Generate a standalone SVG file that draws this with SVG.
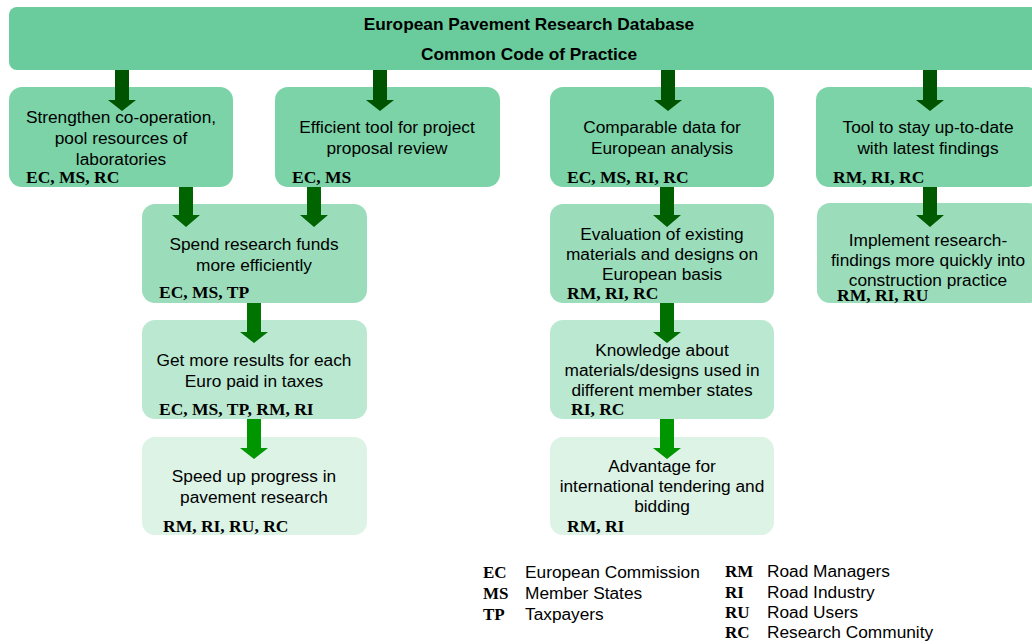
<svg xmlns="http://www.w3.org/2000/svg" width="1032" height="644" viewBox="0 0 1032 644">
<style>
.t{font-family:"Liberation Sans",Arial,sans-serif;font-size:17.3px;fill:#000;text-anchor:middle}
.h{font-family:"Liberation Sans",Arial,sans-serif;font-size:17.3px;font-weight:bold;fill:#000;text-anchor:middle}
.c{font-family:"Liberation Serif","Times New Roman",serif;font-size:17.5px;font-weight:bold;fill:#000}
.lc{font-family:"Liberation Serif","Times New Roman",serif;font-size:17px;font-weight:bold;fill:#000}
.lt{font-family:"Liberation Sans",Arial,sans-serif;font-size:17.3px;fill:#000}
.l1{fill:#7bd3a7}
.l2{fill:#9bddbb}
.l3{fill:#bbe8d0}
.l4{fill:#dcf3e6}
</style>
<rect width="1032" height="644" fill="#fff"/>
<g id="top">
<rect x="9" y="7" width="1041" height="63" rx="8" fill="#6acc9c"/>
<text class="h" x="529" y="30">European Pavement Research Database</text>
<text class="h" x="529" y="60">Common Code of Practice</text>
</g>
<g id="nodeA">
<rect class="l1" x="9" y="87" width="224" height="100" rx="13"/>
<text class="t" x="121" y="123">Strengthen co-operation,</text>
<text class="t" x="121" y="144">pool resources of</text>
<text class="t" x="121" y="165">laboratories</text>
<text class="c" x="26" y="183">EC, MS, RC</text>
</g>
<g id="nodeB">
<rect class="l1" x="275" y="87" width="225" height="100" rx="13"/>
<text class="t" x="387" y="133">Efficient tool for project</text>
<text class="t" x="387" y="154">proposal review</text>
<text class="c" x="292" y="183">EC, MS</text>
</g>
<g id="nodeC">
<rect class="l1" x="550" y="87" width="224" height="100" rx="13"/>
<text class="t" x="662" y="133">Comparable data for</text>
<text class="t" x="662" y="154">European analysis</text>
<text class="c" x="567" y="183">EC, MS, RI, RC</text>
</g>
<g id="nodeD">
<rect class="l1" x="816" y="87" width="224" height="100" rx="13"/>
<text class="t" x="928" y="133">Tool to stay up-to-date</text>
<text class="t" x="928" y="154">with latest findings</text>
<text class="c" x="833" y="183">RM, RI, RC</text>
</g>
<g id="nodeE">
<rect class="l2" x="142" y="204" width="225" height="99" rx="13"/>
<text class="t" x="254" y="250">Spend research funds</text>
<text class="t" x="254" y="271">more efficiently</text>
<text class="c" x="159" y="298">EC, MS, TP</text>
</g>
<g id="nodeF">
<rect class="l3" x="142" y="320" width="225" height="99" rx="13"/>
<text class="t" x="254" y="366">Get more results for each</text>
<text class="t" x="254" y="387">Euro paid in taxes</text>
<text class="c" x="159" y="415">EC, MS, TP, RM, RI</text>
</g>
<g id="nodeG">
<rect class="l4" x="142" y="437" width="225" height="98" rx="13"/>
<text class="t" x="254" y="482">Speed up progress in</text>
<text class="t" x="254" y="503">pavement research</text>
<text class="c" x="163" y="532">RM, RI, RU, RC</text>
</g>
<g id="nodeH">
<rect class="l2" x="550" y="204" width="224" height="99" rx="13"/>
<text class="t" x="662" y="240">Evaluation of existing</text>
<text class="t" x="662" y="260">materials and designs on</text>
<text class="t" x="662" y="280">European basis</text>
<text class="c" x="567" y="299">RM, RI, RC</text>
</g>
<g id="nodeI">
<rect class="l3" x="550" y="320" width="224" height="99" rx="13"/>
<text class="t" x="662" y="356">Knowledge about</text>
<text class="t" x="662" y="376">materials/designs used in</text>
<text class="t" x="662" y="396">different member states</text>
<text class="c" x="571" y="415">RI, RC</text>
</g>
<g id="nodeJ">
<rect class="l4" x="550" y="437" width="224" height="98" rx="13"/>
<text class="t" x="662" y="472">Advantage for</text>
<text class="t" x="662" y="492">international tendering and</text>
<text class="t" x="662" y="512">bidding</text>
<text class="c" x="567" y="532">RM, RI</text>
</g>
<g id="nodeK">
<rect class="l2" x="817" y="203" width="224" height="100" rx="13"/>
<text class="t" x="928" y="246">Implement research-</text>
<text class="t" x="928" y="266">findings more quickly into</text>
<text class="t" x="928" y="286">construction practice</text>
<text class="c" x="837" y="301">RM, RI, RU</text>
</g>
<g id="connectors">
<polygon fill="#005400" points="115,70 129,70 129,100 136,100 122,111 108,100 115,100"/>
<polygon fill="#005400" points="373,70 387,70 387,100 394,100 380,111 366,100 373,100"/>
<polygon fill="#005400" points="661,70 675,70 675,100 682,100 668,111 654,100 661,100"/>
<polygon fill="#005400" points="923,70 937,70 937,100 944,100 930,111 916,100 923,100"/>
<polygon fill="#006400" points="179,187 193,187 193,215 200,215 186,227 172,215 179,215"/>
<polygon fill="#006400" points="307,187 321,187 321,215 328,215 314,227 300,215 307,215"/>
<polygon fill="#006000" points="660,187 674,187 674,215 681,215 667,227 653,215 660,215"/>
<polygon fill="#005a00" points="923,187 937,187 937,215 944,215 930,227 916,215 923,215"/>
<polygon fill="#007400" points="247,303 261,303 261,332 268,332 254,343 240,332 247,332"/>
<polygon fill="#007000" points="660,303 674,303 674,332 681,332 667,343 653,332 660,332"/>
<polygon fill="#009600" points="247,419 261,419 261,448 268,448 254,459 240,448 247,448"/>
<polygon fill="#009600" points="660,419 674,419 674,448 681,448 667,459 653,448 660,448"/>
</g>
<g id="legend">
<text class="lc" x="483" y="578">EC</text><text class="lt" x="525" y="578">European Commission</text>
<text class="lc" x="483" y="599">MS</text><text class="lt" x="525" y="599">Member States</text>
<text class="lc" x="483" y="620">TP</text><text class="lt" x="525" y="620">Taxpayers</text>
<text class="lc" x="725" y="577">RM</text><text class="lt" x="767" y="577">Road Managers</text>
<text class="lc" x="725" y="598">RI</text><text class="lt" x="767" y="598">Road Industry</text>
<text class="lc" x="725" y="618">RU</text><text class="lt" x="767" y="618">Road Users</text>
<text class="lc" x="725" y="638">RC</text><text class="lt" x="767" y="638">Research Community</text>
</g>
</svg>
